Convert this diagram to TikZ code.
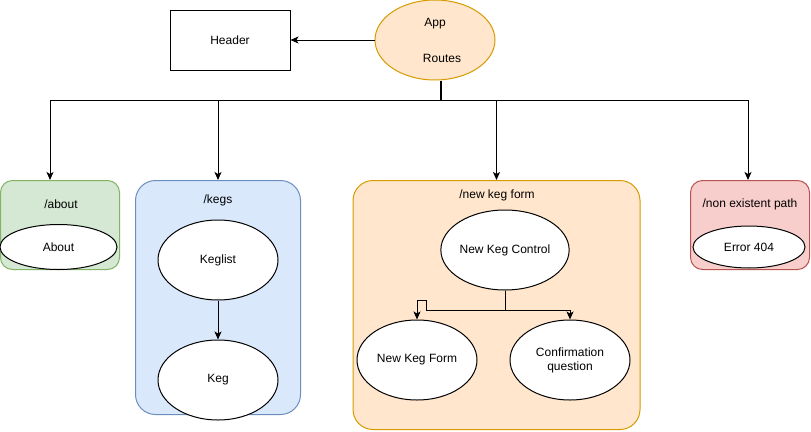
\documentclass[tikz,border=0pt]{standalone}
\usepackage{fontspec}
\setmainfont{Liberation Sans}
\usetikzlibrary{shapes.geometric, arrows, arrows.meta}
\definecolor{orangefill}{HTML}{FFE6CC}
\definecolor{orangeline}{HTML}{D79B00}
\definecolor{greenfill}{HTML}{D5E8D4}
\definecolor{greenline}{HTML}{82B366}
\definecolor{bluefill}{HTML}{DAE8FC}
\definecolor{blueline}{HTML}{6C8EBF}
\definecolor{redfill}{HTML}{F8CECC}
\definecolor{redline}{HTML}{B85450}
\tikzstyle{route} = [rectangle, rounded corners=12pt, line width=1pt, inner sep=0pt]
\tikzstyle{comp} = [ellipse, draw=black, fill=white, line width=1pt, minimum width=120pt, minimum height=80pt, inner sep=0pt, align=center]
\tikzstyle{txt} = [inner sep=0pt, font=\fontsize{12}{14}\selectfont]
\tikzstyle{arrow} = [line width=1pt,->,>={Stealth[length=8pt,width=7pt,inset=2pt]}]

\begin{document}
\begin{tikzpicture}[x=1pt, y=-1pt, every node/.style={font=\fontsize{12}{14}\selectfont}]
			\useasboundingbox (0,0) rectangle (811,431);
			\node[rectangle, draw=black, line width=1pt, minimum width=120pt, minimum height=60pt] (1) at (230,40) {Header};
			\node[comp, fill=orangefill, draw=orangeline] (2) at (435,40) {App\\[22pt]\hspace{14pt}Routes};
			\coordinate (bus) at (441,100);
			
			\node[route, fill=greenfill, draw=greenline, minimum width=119pt, minimum height=89pt] (3) at (60,225) {};
			\node[route, rounded corners=20pt, fill=bluefill, draw=blueline, minimum width=165pt, minimum height=234pt] (4) at (218,297.5) {};
			\node[route, rounded corners=20pt, fill=orangefill, draw=orangeline, minimum width=287pt, minimum height=249pt] (5) at (496.5,305) {};
			\node[route, fill=redfill, draw=redline, minimum width=119pt, minimum height=89pt] (6) at (750,225) {};
			
			\node[txt] (3t) at (61,204) {/about};
			\node[txt] (4t) at (218,200) {/kegs};
			\node[txt] (5t) at (497,195) {/new keg form};
			\node[txt] (6t) at (750,204) {/non existent path};
			
			\node[comp, minimum width=117pt, minimum height=45pt] (a) at (58.5,247) {About};
			\node[comp] (k1) at (218,260) {Keglist};
			\node[comp] (k2) at (218,380) {Keg};
			\node[comp] (7) at (505,250) {New Keg Control};
			\node[comp] (8) at (417,360) {New Keg Form};
			\node[comp] (9) at (570,360) {Confirmation\\question};
			\node[comp, minimum width=112pt, minimum height=42pt] (e) at (749,247) {Error 404};
			
			\draw [arrow] (2) -- (1);
			\draw [line width=2pt] (2.south -| bus) -- (bus);
			\draw [arrow] (bus) -| ([xshift=-10pt]3.north);
			\draw [arrow] (bus) -| (4.north);
			\draw [arrow] (bus) -| (5.north);
			\draw [arrow] (bus) -| ([xshift=-2pt]6.north);
			\draw [arrow] (k1) -- (k2);
			\draw [arrow] (7.south) |- ++(-79,20) |- ++(-8,-10) -| (8.north);
			\draw [arrow] (7.south) -- ++(0,20) -| (9.north);
			
		\end{tikzpicture}
\end{document}
